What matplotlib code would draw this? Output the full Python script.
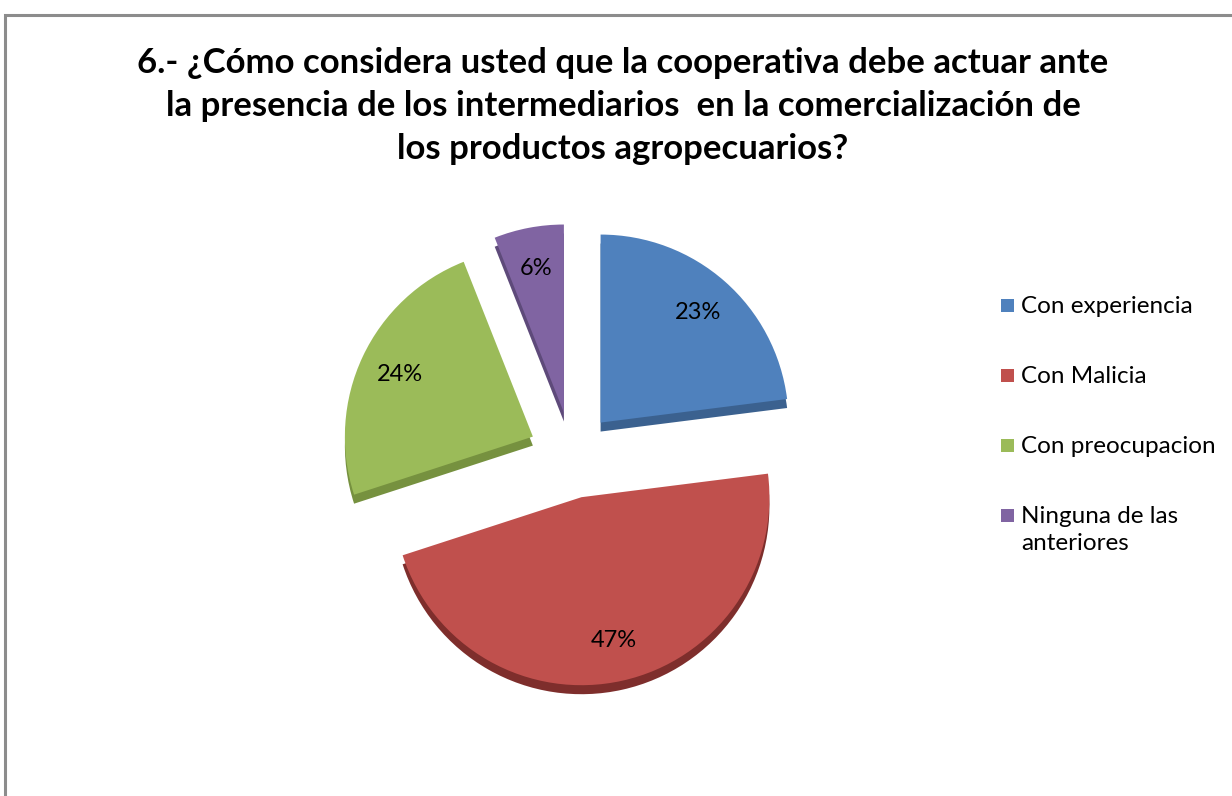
import matplotlib
matplotlib.use("Agg")
import matplotlib.pyplot as plt
from matplotlib.patches import Rectangle

# Survey answers, question 6
labels = ["Con experiencia", "Con Malicia", "Con preocupacion", "Ninguna de las\nanteriores"]
values = [23, 47, 24, 6]
colors = ["#4F81BD", "#C0504D", "#9BBB59", "#8064A2"]
side_colors = ["#3B618F", "#7E2E2C", "#76913F", "#5E4A7A"]

title = ("6.- ¿Cómo considera usted que la cooperativa debe actuar ante\n"
         "la presencia de los intermediarios  en la comercialización de\n"
         "los productos agropecuarios?")

plt.rcParams['font.family'] = ['Lato', 'DejaVu Sans']

W, H = 1232, 796
fig = plt.figure(figsize=(W / 100, H / 100), dpi=100)
ax = fig.add_axes([0, 0, 1, 1])

# outer chart border
ax.add_patch(Rectangle((5, -20), W + 20, H - 15 + 20, fill=False,
                       edgecolor="#8c8c8c", linewidth=2.2))

cx, cy, r = 572, H - 455, 188
# pie() offsets exploded wedges in data units, so scale by the radius
explode = [0.23 * r] * len(values)

# darker copy underneath gives the slices some thickness
ax.pie(values, colors=side_colors, explode=explode, startangle=90,
       counterclock=False, radius=r, center=(cx, cy - 9),
       wedgeprops=dict(linewidth=0), frame=True)
wedges, _, autotexts = ax.pie(values, colors=colors, explode=explode,
                              startangle=90, counterclock=False, radius=r,
                              center=(cx, cy), autopct='%.0f%%', pctdistance=0.78,
                              wedgeprops=dict(linewidth=0),
                              textprops=dict(fontsize=17, color="black"), frame=True)
ax.set_xlim(0, W)
ax.set_ylim(0, H)
ax.set_aspect('equal')
ax.axis('off')

fig.text(623 / W, 1 - 106 / H, title, ha='center', va='center',
         fontsize=25, fontweight='bold', linespacing=1.42)

# legend drawn by hand so the two-line entry keeps its marker on the first line
for i, (lab, col) in enumerate(zip(labels, colors)):
    ymid = H - (305 + 70 * i)
    ax.add_patch(Rectangle((1001, ymid - 6.5), 13, 13, facecolor=col, edgecolor='none'))
    ax.text(1021, ymid + 9, lab, ha='left', va='top', fontsize=17.5,
            linespacing=1.35)

fig.savefig("out.png", dpi=100)
